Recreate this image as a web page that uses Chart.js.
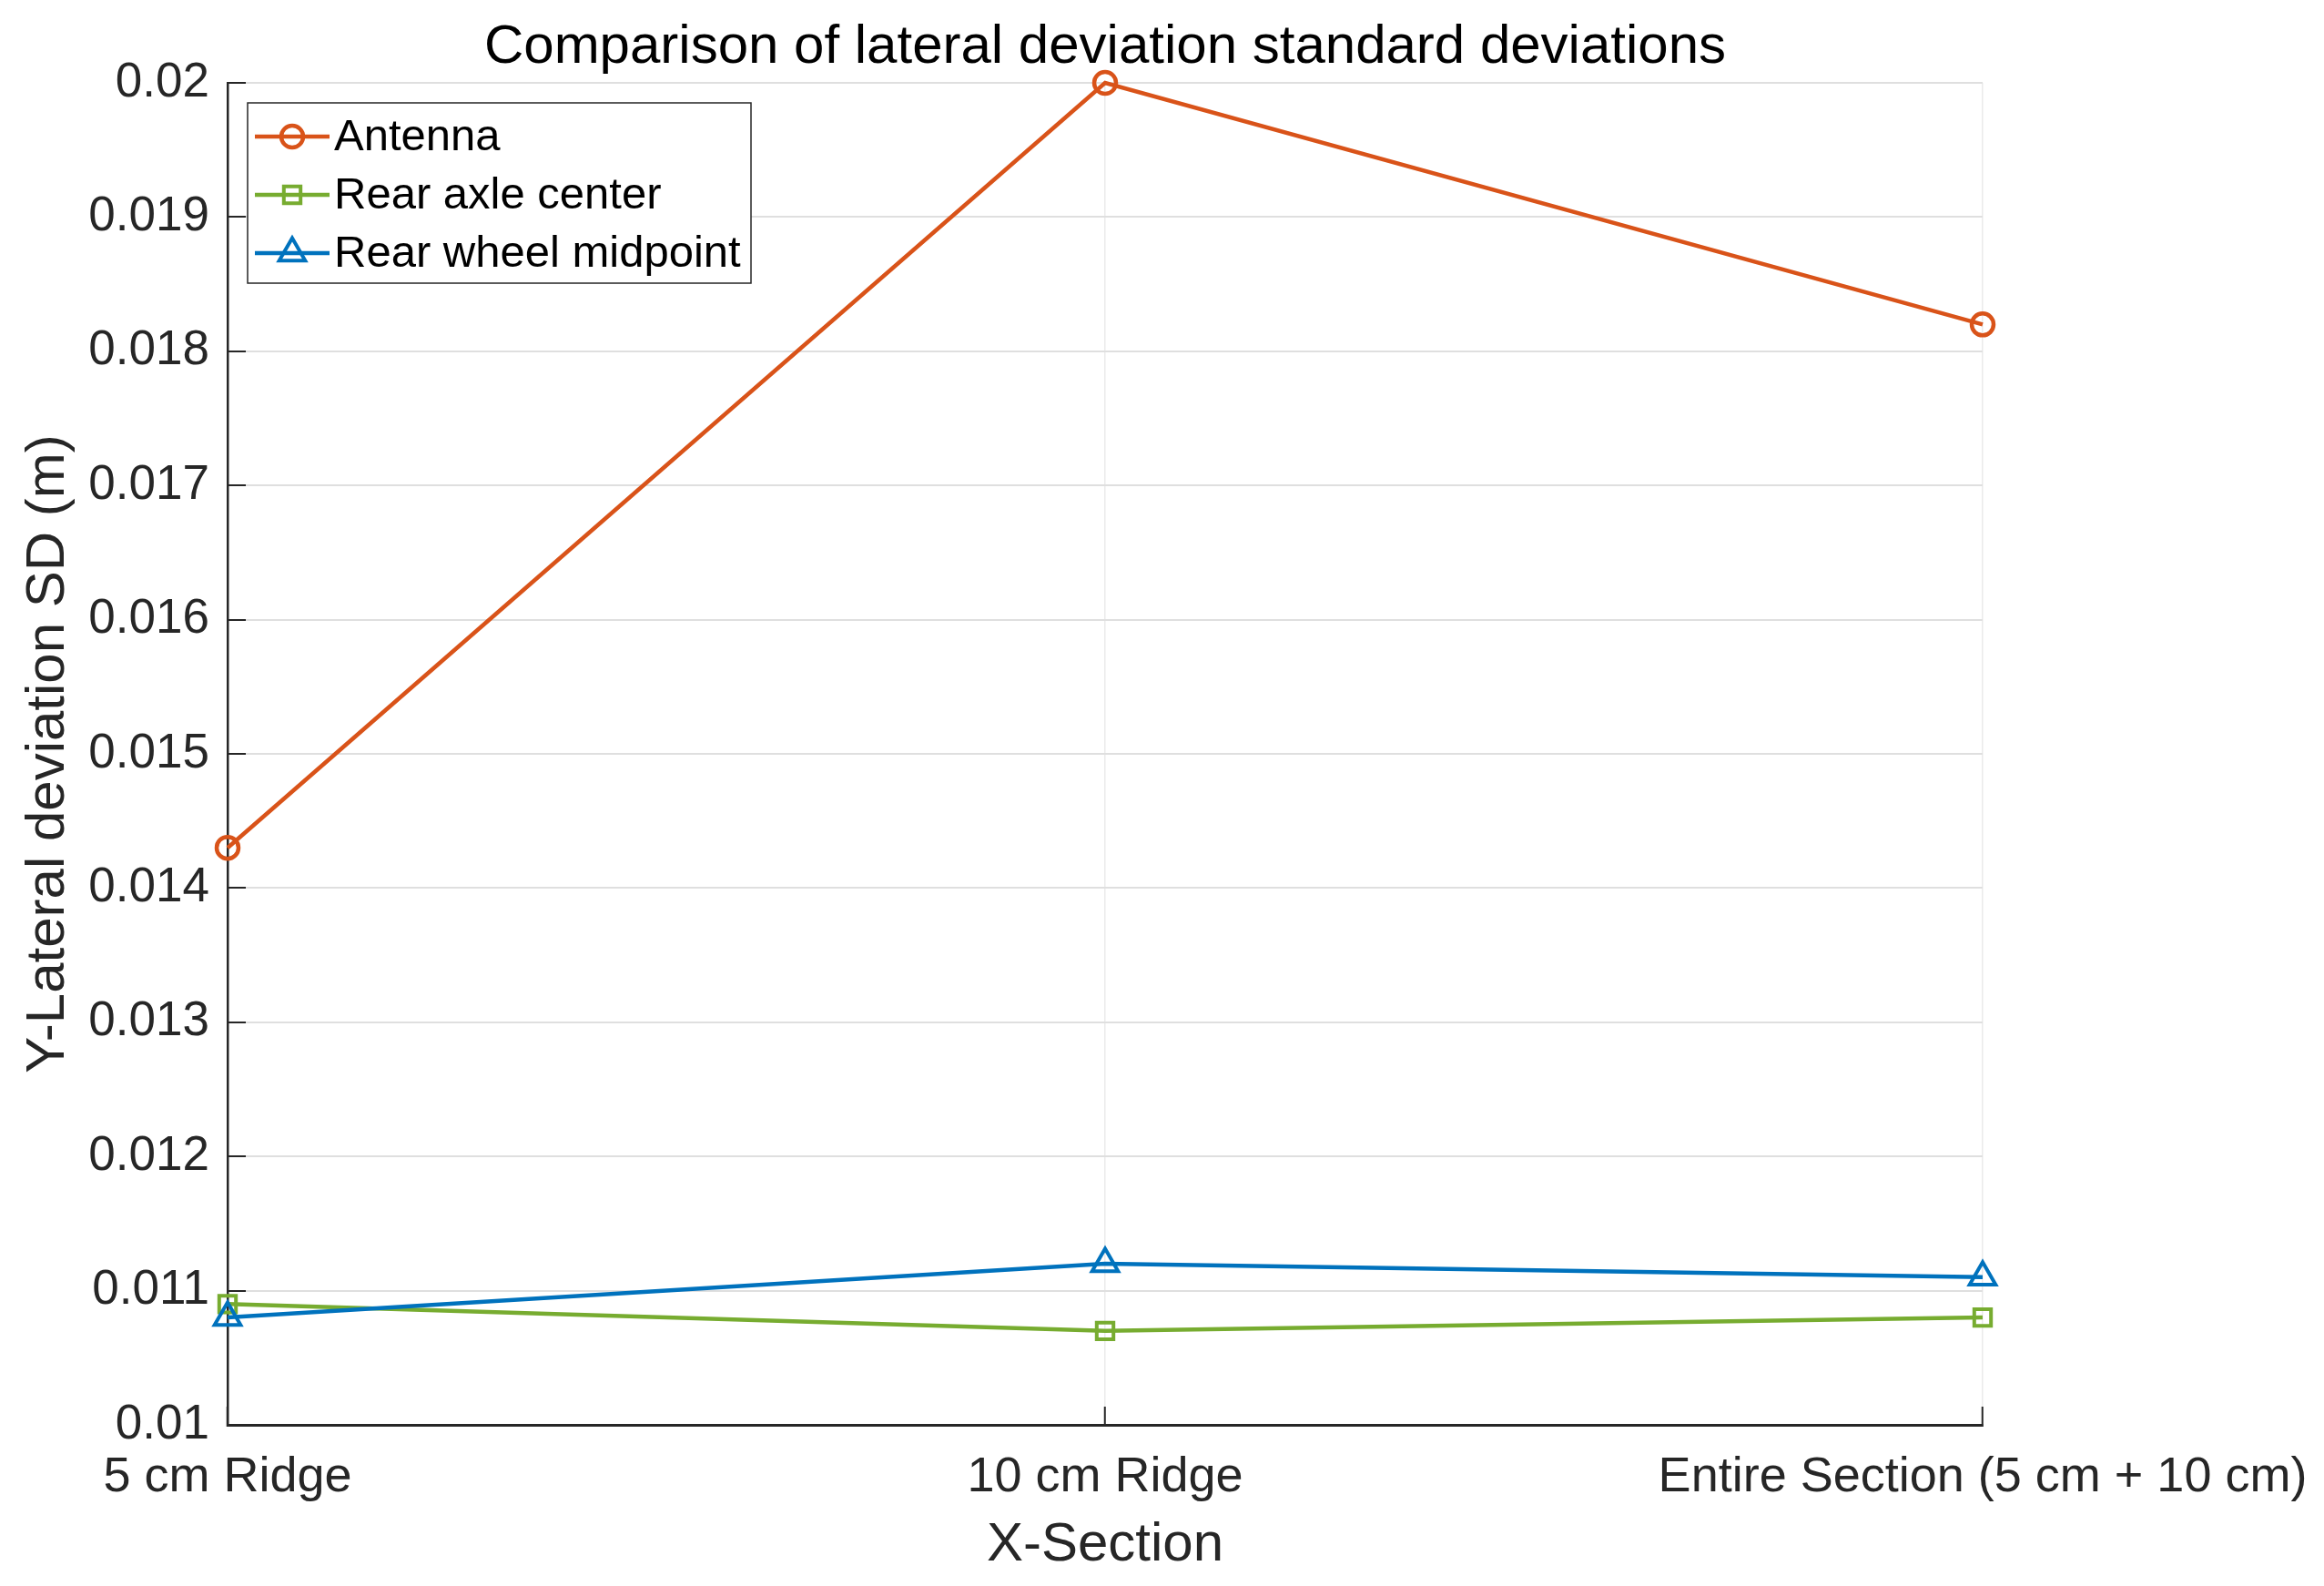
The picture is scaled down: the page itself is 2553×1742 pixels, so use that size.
<!DOCTYPE html>
<html lang="en">
<head>
    <meta charset="UTF-8">
    <title>Comparison of lateral deviation standard deviations</title>
    <script src="https://cdn.jsdelivr.net/npm/chart.js"></script>
    <style>
        html, body {
            margin: 0;
            padding: 0;
            background: #fff;
        }

        #wrap {
            width: 2553px;
            height: 1742px;
        }
    </style>
</head>
<body>
    <div id="wrap">
        <canvas id="sdChart" width="2553" height="1742"></canvas>
    </div>
    <script>
        // data
        var categories = ['5 cm Ridge', '10 cm Ridge', 'Entire Section (5 cm + 10 cm)'];
        var seriesNames = ['Antenna', 'Rear axle center', 'Rear wheel midpoint'];
        var antenna = [0.0143, 0.0200, 0.0182];
        var rearAxleCenter = [0.0109, 0.0107, 0.0108];
        var rearWheelMidpoint = [0.0108, 0.0112, 0.0111];
        var yTickValues = [0.010, 0.011, 0.012, 0.013, 0.014, 0.015, 0.016, 0.017, 0.018, 0.019, 0.020];
        var yTickLabels = ['0.01', '0.011', '0.012', '0.013', '0.014', '0.015', '0.016', '0.017', '0.018', '0.019', '0.02'];

        var FONT = "'Liberation Sans', Arial, Helvetica, sans-serif";
        var AXIS_COLOR = '#262626';

        // MATLAB style legend box in the upper left corner
        var boxLegend = {
            id: 'boxLegend',
            afterDraw: function (chart) {
                var ctx = chart.ctx;
                var left = 272, top = 113, width = 553, height = 198;
                ctx.save();
                ctx.fillStyle = '#fff';
                ctx.fillRect(left, top, width, height);
                ctx.strokeStyle = AXIS_COLOR;
                ctx.lineWidth = 1.5;
                ctx.strokeRect(left, top, width, height);

                chart.data.datasets.forEach(function (ds, i) {
                    var y = top + 37 + i * 64;
                    ctx.strokeStyle = ds.borderColor;
                    ctx.lineWidth = ds.borderWidth;
                    ctx.beginPath();
                    ctx.moveTo(280, y);
                    ctx.lineTo(362, y);
                    ctx.stroke();

                    ctx.fillStyle = 'rgba(0,0,0,0)';
                    ctx.lineWidth = ds.pointBorderWidth;
                    Chart.helpers.drawPoint(ctx, {
                        pointStyle: ds.pointStyle,
                        radius: ds.pointRadius,
                        rotation: 0,
                        borderWidth: ds.pointBorderWidth
                    }, 321, y);

                    ctx.fillStyle = '#000';
                    ctx.font = '49px ' + FONT;
                    ctx.textAlign = 'left';
                    ctx.textBaseline = 'middle';
                    ctx.fillText(ds.label, 367, y + 1);
                });
                ctx.restore();
            }
        };

        var ctx = document.getElementById('sdChart').getContext('2d');
        new Chart(ctx, {
            type: 'line',
            data: {
                labels: categories,
                datasets: [
                    {
                        label: seriesNames[0],
                        data: antenna,
                        borderColor: '#D95319',
                        borderWidth: 4.5,
                        pointStyle: 'circle',
                        pointRadius: 12,
                        pointBorderWidth: 4.5,
                        pointBackgroundColor: 'rgba(0,0,0,0)',
                        pointBorderColor: '#D95319',
                        tension: 0,
                        clip: false,
                        order: 3
                    },
                    {
                        label: seriesNames[1],
                        data: rearAxleCenter,
                        borderColor: '#77AC30',
                        borderWidth: 4.5,
                        pointStyle: 'rect',
                        pointRadius: 13,
                        pointBorderWidth: 4,
                        pointBackgroundColor: 'rgba(0,0,0,0)',
                        pointBorderColor: '#77AC30',
                        tension: 0,
                        clip: false,
                        order: 2
                    },
                    {
                        label: seriesNames[2],
                        data: rearWheelMidpoint,
                        borderColor: '#0072BD',
                        borderWidth: 4.5,
                        pointStyle: 'triangle',
                        pointRadius: 16.5,
                        pointBorderWidth: 4,
                        pointBackgroundColor: 'rgba(0,0,0,0)',
                        pointBorderColor: '#0072BD',
                        tension: 0,
                        clip: false,
                        order: 1
                    }
                ]
            },
            options: {
                responsive: false,
                animation: false,
                devicePixelRatio: 1,
                layout: {
                    padding: { left: 0, top: 0, right: 375, bottom: 0 }
                },
                plugins: {
                    legend: { display: false },
                    tooltip: { enabled: false },
                    title: {
                        display: true,
                        fullSize: false,
                        text: 'Comparison of lateral deviation standard deviations',
                        color: '#000',
                        font: { family: FONT, size: 60, weight: 'normal' },
                        padding: { top: 16, bottom: 3 }
                    }
                },
                scales: {
                    x: {
                        offset: false,
                        afterFit: function (scale) {
                            scale.height = 177;
                            // labels at the ends may hang past the plot, like in MATLAB
                            scale.paddingLeft = 0;
                            scale.paddingRight = 0;
                        },
                        grid: {
                            color: '#ebebeb',
                            lineWidth: 1.5,
                            tickLength: -20,
                            tickColor: AXIS_COLOR,
                            tickWidth: 2
                        },
                        border: { color: AXIS_COLOR, width: 3 },
                        ticks: {
                            color: AXIS_COLOR,
                            font: { family: FONT, size: 54 },
                            padding: 46,
                            autoSkip: false,
                            maxRotation: 0,
                            minRotation: 0
                        },
                        title: {
                            display: true,
                            text: 'X-Section',
                            color: AXIS_COLOR,
                            font: { family: FONT, size: 60 },
                            padding: { top: 0, bottom: 9 }
                        }
                    },
                    y: {
                        min: yTickValues[0],
                        max: yTickValues[yTickValues.length - 1],
                        afterFit: function (scale) {
                            scale.width = 250;
                            scale.paddingTop = 0;
                            scale.paddingBottom = 0;
                        },
                        afterBuildTicks: function (scale) {
                            scale.ticks = yTickValues.map(function (v) { return { value: v }; });
                        },
                        grid: {
                            color: '#dfdfdf',
                            lineWidth: 2,
                            tickLength: -20,
                            tickColor: AXIS_COLOR,
                            tickWidth: 2
                        },
                        border: { color: AXIS_COLOR, width: 2.5 },
                        ticks: {
                            color: AXIS_COLOR,
                            font: { family: FONT, size: 53 },
                            padding: 40,
                            callback: function (value, index) { return yTickLabels[index]; }
                        },
                        title: {
                            display: true,
                            text: 'Y-Lateral deviation SD (m)',
                            color: AXIS_COLOR,
                            font: { family: FONT, size: 60 },
                            padding: { top: 17, bottom: 0 }
                        }
                    }
                }
            },
            plugins: [boxLegend]
        });
    </script>
</body>
</html>
